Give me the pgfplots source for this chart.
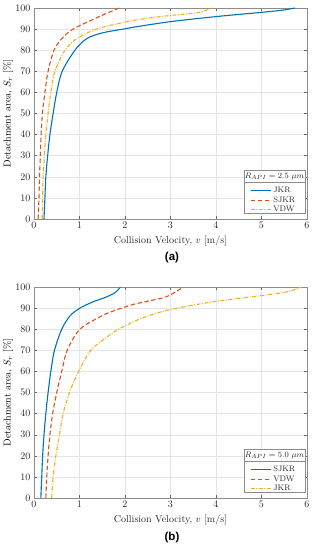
\documentclass[border=0pt]{standalone}
\usepackage{fontspec}
\usepackage{pgfplots}
\pgfplotsset{compat=1.18}
\newfontfamily\capfont{Liberation Sans}
\definecolor{mblue}{rgb}{0,0.447,0.741}
\definecolor{mred}{rgb}{0.85,0.325,0.098}
\definecolor{myel}{rgb}{0.929,0.694,0.125}
\pgfplotsset{
  mystyle/.style={
    scale only axis, width=273pt, height=211pt,
    xmin=0, xmax=6, ymin=0, ymax=100,
    xtick={0,1,...,6}, ytick={0,10,...,100},
    grid=major, major grid style={black!10, line width=0.4pt},
    axis line style={black!45, line width=0.5pt},
    tick style={black!60, line width=0.4pt},
    major tick length=3pt,
    tick label style={black!85, font=\normalsize},
    label style={black!85, font=\normalsize},
    xlabel={Collision Velocity, $v$ [m/s]},
    ylabel={Detachment area, $S_r$ [\%]},
    every axis y label/.style={at={(axis description cs:-0.095,0.5)}, rotate=90, anchor=center},
    legend image code/.code={\draw[##1] (0pt,0pt) -- (20pt,0pt);},
    legend style={draw=none, fill=none, font=\fontsize{8}{9}\selectfont,
      at={(rel axis cs:0.7875,0.168)}, anchor=north west,
      inner sep=1pt, row sep=-1.2pt, cells={anchor=west},
      text=black!85},
  },
  l1/.style={color=mblue, line width=1.1pt, solid},
  l2/.style={color=mred, line width=1.1pt, dash pattern=on 4.5pt off 2.5pt},
  l3/.style={color=myel, line width=1.1pt, dash pattern=on 4pt off 1.5pt on 1pt off 1.5pt},
}
\begin{document}
\begin{tikzpicture}
\path[use as bounding box] (0pt,0pt) rectangle (315pt,550pt);
% ---------- (a) ----------
\begin{axis}[mystyle, at={(34pt,331pt)}, anchor=south west]
\draw[black!45, fill=white] (rel axis cs:0.769,0.026) rectangle (rel axis cs:0.993,0.23);
\draw[black!45] (rel axis cs:0.769,0.173) -- (rel axis cs:0.993,0.173);
\node[font=\fontsize{8}{9}\selectfont, text=black!85] at (rel axis cs:0.881,0.2015) {$R_{API}=2.5\ \mu m$};
\addplot[l1, smooth] coordinates {(0.22,0) (0.24,10) (0.26,20) (0.30,30) (0.35,40) (0.42,50) (0.50,60) (0.62,70) (0.90,80) (1.16,85.5) (1.50,88.2) (1.96,90) (2.33,91.4) (3.06,93.7) (4.08,96.1) (5.03,98.0) (5.50,99.1) (5.73,100)};
\addlegendentry{JKR}
\addplot[l2, smooth] coordinates {(0.09,0) (0.11,10) (0.12,20) (0.14,30) (0.155,40) (0.185,50) (0.24,60) (0.31,70) (0.44,80) (0.61,85.5) (0.86,90) (1.27,94.3) (1.59,97.4) (1.87,100)};
\addlegendentry{SJKR}
\addplot[l3, smooth] coordinates {(0.18,0) (0.19,10) (0.20,20) (0.23,30) (0.26,40) (0.31,50) (0.37,60) (0.46,70) (0.68,80) (0.94,85.5) (1.37,90) (1.89,92.8) (2.2,94.2) (2.84,96.1) (3.57,97.7) (3.84,99.3) (3.93,100)};
\addlegendentry{VDW}
\end{axis}
\node[font=\capfont\bfseries\fontsize{11.5}{13}\selectfont] at (172pt,292pt) {(a)};
% ---------- (b) ----------
\begin{axis}[mystyle, at={(34pt,52pt)}, anchor=south west]
\draw[black!45, fill=white] (rel axis cs:0.769,0.026) rectangle (rel axis cs:0.993,0.23);
\draw[black!45] (rel axis cs:0.769,0.173) -- (rel axis cs:0.993,0.173);
\node[font=\fontsize{8}{9}\selectfont, text=black!85] at (rel axis cs:0.881,0.2015) {$R_{API}=5.0\ \mu m$};
\addplot[l1, smooth] coordinates {(0.15,0) (0.17,10) (0.19,20) (0.22,30) (0.26,40) (0.31,50) (0.37,60) (0.45,70) (0.61,80) (0.79,86.3) (1.01,90) (1.30,93) (1.56,95) (1.78,97.3) (1.90,100)};
\addlegendentry{SJKR}
\addplot[l2, smooth] coordinates {(0.26,0) (0.28,10) (0.31,20) (0.35,30) (0.41,40) (0.50,50) (0.61,60) (0.73,70) (1.01,80) (1.49,86.3) (1.74,88.6) (2.11,91.3) (2.33,92.5) (2.84,94.9) (3.06,97.0) (3.28,100)};
\addlegendentry{VDW}
\addplot[l3, smooth] coordinates {(0.39,0) (0.42,10) (0.48,20) (0.56,30) (0.64,40) (0.78,50) (0.98,60) (1.25,70) (1.65,77) (1.86,80) (2.30,84.6) (2.84,88.5) (3.57,91.7) (4.30,94.1) (5.03,96.0) (5.60,97.9) (5.87,100)};
\addlegendentry{JKR}
\end{axis}
\node[font=\capfont\bfseries\fontsize{11.5}{13}\selectfont] at (172pt,12pt) {(b)};
\end{tikzpicture}
\end{document}
